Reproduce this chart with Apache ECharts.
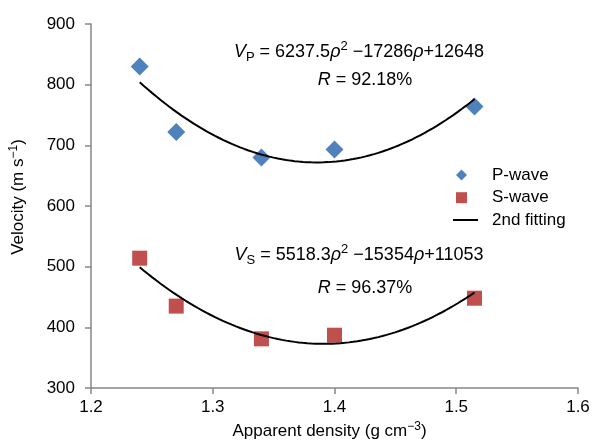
<!DOCTYPE html>
<html>
<head>
<meta charset="utf-8">
<script src="https://cdn.jsdelivr.net/npm/echarts@6/dist/echarts.min.js"></script>
<style>
  html, body { margin: 0; padding: 0; background: #fff; }
  #chart { width: 614px; height: 446px; }
</style>
</head>
<body>
<div id="chart"></div>
<script>
// Measured samples: apparent density (g/cm3) vs wave velocity (m/s)
const density = [1.24, 1.27, 1.34, 1.40, 1.515];
const pWave = [830, 722, 680, 693, 764];
const sWave = [514, 435, 381, 387, 448];

// Second-order fit coefficients [a, b, c] for V = a*rho^2 + b*rho + c
const pFit = [6237.5, -17286, 12648];
const sFit = [5518.3, -15354, 11053];
const pR = '92.18';
const sR = '96.37';

// Axis ranges [min, max, interval]
const xAxisRange = [1.2, 1.6, 0.1];
const yAxisRange = [300, 900, 100];

const FONT = '"Liberation Sans", Arial, Helvetica, sans-serif';
const AXIS_GREY = '#868686';
const P_COLOR = '#4F81BD';
const S_COLOR = '#C0504D';

// Trend curve evaluated from the stated coefficients over the sampled range
function fitCurve(coef) {
  const pts = [];
  const x0 = density[0], x1 = density[density.length - 1];
  const n = 80;
  for (let i = 0; i <= n; i++) {
    const x = x0 + (x1 - x0) * i / n;
    pts.push([x, coef[0] * x * x + coef[1] * x + coef[2]]);
  }
  return pts;
}

function equationText(sub, coef) {
  const b = coef[1] < 0 ? '\u2212' + (-coef[1]) : '+' + coef[1];
  return '{it|V}{sub|' + sub + '} = ' + coef[0] + '{it|\u03c1}{sup|2} ' + b + '{it|\u03c1}+' + coef[2];
}

const eqRich = {
  it: { fontStyle: 'italic', fontSize: 18, lineHeight: 24, fontFamily: FONT, color: '#000' },
  sub: { fontSize: 13, lineHeight: 13, verticalAlign: 'bottom', fontFamily: FONT, color: '#000' },
  sup: { fontSize: 13, lineHeight: 13, verticalAlign: 'top', fontFamily: FONT, color: '#000' }
};

function textEl(x, y, text) {
  return {
    type: 'text',
    x: x, y: y,
    z: 10,
    style: {
      text: text,
      rich: eqRich,
      fontSize: 18,
      lineHeight: 24,
      fontFamily: FONT,
      fill: '#000',
      align: 'center',
      verticalAlign: 'middle',
      textAlign: 'center',
      textVerticalAlign: 'middle'
    }
  };
}

const chart = echarts.init(document.getElementById('chart'), null, { renderer: 'canvas' });

const axisLineStyle = { color: AXIS_GREY, width: 1.5 };
const nameRich = {
  sup: { fontSize: 12, lineHeight: 12, verticalAlign: 'top', fontFamily: FONT, color: '#000' }
};
const legendText = { fontSize: 17, lineHeight: 18, color: '#000', fontFamily: FONT };

chart.setOption({
  animation: false,
  backgroundColor: '#fff',
  grid: { left: 90, right: 36, top: 24, bottom: 58 },
  legend: [
    {
      // marker entries
      orient: 'vertical',
      left: 451,
      top: 161,
      itemWidth: 11,
      itemHeight: 11,
      itemGap: 4.7,
      textStyle: Object.assign({ padding: [0, 0, 0, 20] }, legendText),
      data: [
        { name: 'P-wave', icon: 'diamond', itemStyle: { color: P_COLOR, opacity: 1 } },
        { name: 'S-wave', icon: 'rect', itemStyle: { color: S_COLOR, opacity: 1 } }
      ]
    },
    {
      // fitted-curve entry
      orient: 'vertical',
      left: 448,
      top: 206,
      itemWidth: 25,
      itemHeight: 2,
      textStyle: Object.assign({ padding: [0, 0, 0, 9] }, legendText),
      data: [{ name: '2nd fitting', icon: 'rect', itemStyle: { color: '#000' } }]
    }
  ],
  xAxis: {
    type: 'value',
    min: xAxisRange[0], max: xAxisRange[1], interval: xAxisRange[2],
    name: 'Apparent density (g cm{sup|\u22123})',
    nameLocation: 'middle',
    nameGap: 30,
    nameTextStyle: { fontSize: 17, color: '#000', fontFamily: FONT, rich: nameRich, lineHeight: 20, padding: [0, 10, 0, 0] },
    axisLine: { show: true, onZero: false, lineStyle: axisLineStyle },
    axisTick: { show: true, inside: false, length: 6, lineStyle: axisLineStyle },
    axisLabel: { fontSize: 17, color: '#000', fontFamily: FONT, margin: 11, formatter: v => v.toFixed(1) },
    splitLine: { show: false }
  },
  yAxis: {
    type: 'value',
    min: yAxisRange[0], max: yAxisRange[1], interval: yAxisRange[2],
    name: 'Velocity (m s{sup|\u22121})',
    nameLocation: 'middle',
    nameGap: 63,
    nameTextStyle: { fontSize: 17, color: '#000', fontFamily: FONT, rich: nameRich, lineHeight: 20, padding: [0, 0, 0, 18] },
    axisLine: { show: true, onZero: false, lineStyle: axisLineStyle },
    axisTick: { show: true, inside: false, length: 6, lineStyle: axisLineStyle },
    axisLabel: { fontSize: 17, color: '#000', fontFamily: FONT, margin: 16 },
    splitLine: { show: false }
  },
  series: [
    {
      name: 'P-wave', type: 'scatter', symbol: 'diamond', symbolSize: 18,
      itemStyle: { color: P_COLOR, opacity: 1 }, z: 2,
      data: density.map((d, i) => [d, pWave[i]])
    },
    {
      name: 'S-wave', type: 'scatter', symbol: 'rect', symbolSize: 15,
      itemStyle: { color: S_COLOR, opacity: 1 }, z: 2,
      data: density.map((d, i) => [d, sWave[i]])
    },
    {
      name: '2nd fitting', type: 'line', symbol: 'none', showSymbol: false, smooth: false,
      lineStyle: { color: '#000', width: 2 }, itemStyle: { color: '#000' }, z: 3,
      data: fitCurve(pFit)
    },
    {
      name: '2nd fitting', type: 'line', symbol: 'none', showSymbol: false, smooth: false,
      lineStyle: { color: '#000', width: 2 }, itemStyle: { color: '#000' }, z: 3,
      data: fitCurve(sFit)
    }
  ],
  graphic: [
    textEl(359, 52, equationText('P', pFit)),
    textEl(365, 80, '{it|R} = ' + pR + '%'),
    textEl(359, 255, equationText('S', sFit)),
    textEl(365, 288, '{it|R} = ' + sR + '%')
  ]
});
</script>
</body>
</html>
